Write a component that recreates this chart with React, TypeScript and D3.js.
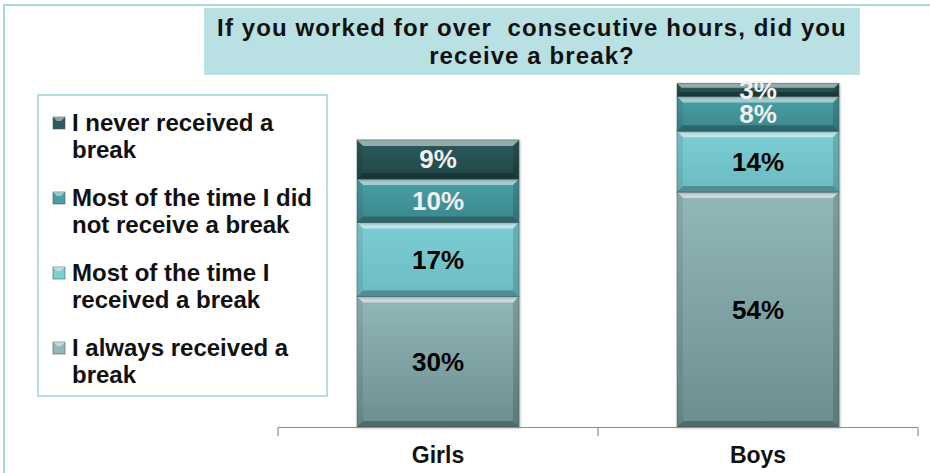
import React from 'react';
import * as d3 from 'd3';

const categories = ['Girls', 'Boys'];
const seriesNames = [
  'I always received a break',
  'Most of the time I received a break',
  'Most of the time I did not receive a break',
  'I never received a break',
];
const always = [30, 54];
const mostReceived = [17, 14];
const mostNot = [10, 8];
const never = [9, 3];
const legendLines = [
  ['I never received a', 'break'],
  ['Most of the time I did', 'not receive a break'],
  ['Most of the time I', 'received a break'],
  ['I always received a', 'break'],
];
const titleLines = ['If you worked for over  consecutive hours, did you', 'receive a break?'];

const W = 930;
const H = 473;
const FONT = 'Liberation Sans, Arial, sans-serif';

// per series: [top, bottom] gradient, label colour
const styles = [
  { top: '#93b8ba', bottom: '#6c8e90', label: '#000' },
  { top: '#7cced4', bottom: '#6bbcc2', label: '#000' },
  { top: '#49a0a6', bottom: '#3a878c', label: '#f0f0f0' },
  { top: '#2d5a5c', bottom: '#224748', label: '#f0f0f0' },
];

const App: React.FC = () => {
  const values = [always, mostReceived, mostNot, never];
  const rows = categories.map((c, i) => {
    const r: any = { cat: c };
    seriesNames.forEach((s, k) => (r[s] = values[k][i]));
    return r;
  });
  const stacked = d3.stack<any>().keys(seriesNames)(rows);

  const x = d3.scaleBand().domain(categories).range([278, 918]).paddingInner(0).paddingOuter(0);
  const barW = 162;
  const y = d3.scaleLinear().domain([0, 80]).range([427, 427 - 80 * 4.35]);
  const bev = 6;

  return (
    <svg width={W} height={H} style={{ position: 'absolute', left: 0, top: 0, fontFamily: FONT }}>
      <defs>
        {styles.map((s, k) => (
          <linearGradient key={k} id={`g${k}`} x1="0" y1="0" x2="0" y2="1">
            <stop offset="0%" stopColor={s.top} />
            <stop offset="100%" stopColor={s.bottom} />
          </linearGradient>
        ))}
        <filter id="sh" x="-10%" y="-10%" width="130%" height="130%">
          <feDropShadow dx="1" dy="1" stdDeviation="1.5" floodColor="#000" floodOpacity="0.3" />
        </filter>
      </defs>
      <rect x={0} y={0} width={W} height={H} fill="#fff" />
      <rect x={4} y={5} width={W + 20} height={H + 20} fill="none" stroke="#a8d6da" strokeWidth={2} />

      {/* title */}
      <rect x={204} y={8} width={656} height={67} fill="#b9e0e3" />
      {titleLines.map((t, i) => (
        <text
          key={i}
          x={532}
          y={36 + i * 28}
          textAnchor="middle"
          fontSize={24}
          fontWeight="bold"
          letterSpacing={1.1}
          fill="#111"
          style={{ whiteSpace: 'pre' }}
        >
          {t}
        </text>
      ))}

      {/* legend */}
      <rect x={38} y={95} width={289} height={301} fill="#fff" stroke="#9fd3d8" strokeWidth={1.5} />
      {legendLines.map((lines, i) => {
        const k = 3 - i;
        const ly = 131 + i * 75;
        return (
          <g key={i}>
            <rect x={53} y={ly - 14} width={12} height={12} fill={styles[k].top} stroke="#555" strokeWidth={0.6} />
            <polygon
              points={`${53},${ly - 14} ${65},${ly - 14} ${61},${ly - 10} ${57},${ly - 10}`}
              fill="#fff"
              opacity={0.45}
            />
            {lines.map((t, j) => (
              <text key={j} x={72} y={ly + j * 27} fontSize={24} fontWeight="bold" fill="#111">
                {t}
              </text>
            ))}
          </g>
        );
      })}

      {/* bars */}
      {stacked.map((layer, k) => (
        <g key={layer.key}>
          {layer.map((d, i) => {
            const cx = (x(categories[i]) as number) + x.bandwidth() / 2;
            const x0 = cx - barW / 2;
            const x1 = cx + barW / 2;
            const yTop = y(d[1]);
            const yBot = y(d[0]);
            const b = Math.min(bev, (yBot - yTop) / 3);
            return (
              <g key={i}>
                <rect x={x0} y={yTop} width={barW} height={yBot - yTop} fill={`url(#g${k})`} filter="url(#sh)" />
                <polygon points={`${x0},${yTop} ${x1},${yTop} ${x1 - b},${yTop + b} ${x0 + b},${yTop + b}`} fill="#fff" opacity={0.5} />
                <polygon points={`${x0},${yBot} ${x1},${yBot} ${x1 - b},${yBot - b} ${x0 + b},${yBot - b}`} fill="#000" opacity={0.25} />
                <polygon points={`${x0},${yTop} ${x0 + b},${yTop + b} ${x0 + b},${yBot - b} ${x0},${yBot}`} fill="#000" opacity={0.08} />
                <polygon points={`${x1},${yTop} ${x1 - b},${yTop + b} ${x1 - b},${yBot - b} ${x1},${yBot}`} fill="#000" opacity={0.15} />
                <rect x={x0} y={yTop} width={barW} height={yBot - yTop} fill="none" stroke="#3d5556" strokeWidth={0.8} opacity={0.6} />
                <text
                  x={cx}
                  y={(yTop + yBot) / 2 + 9}
                  textAnchor="middle"
                  fontSize={26}
                  fontWeight="bold"
                  fill={styles[k].label}
                >
                  {`${d[1] - d[0]}%`}
                </text>
              </g>
            );
          })}
        </g>
      ))}

      {/* axis */}
      <g stroke="#8c8c8c" strokeWidth={1.2}>
        <line x1={278} x2={918} y1={427.5} y2={427.5} />
        {[...categories.map((c) => x(c) as number), 918].map((t, i) => (
          <line key={i} x1={t} x2={t} y1={427.5} y2={436} />
        ))}
      </g>
      {categories.map((c) => (
        <text key={c} x={(x(c) as number) + x.bandwidth() / 2} y={463} textAnchor="middle" fontSize={23} fontWeight="bold" fill="#111">
          {c}
        </text>
      ))}
    </svg>
  );
};

export default App;
